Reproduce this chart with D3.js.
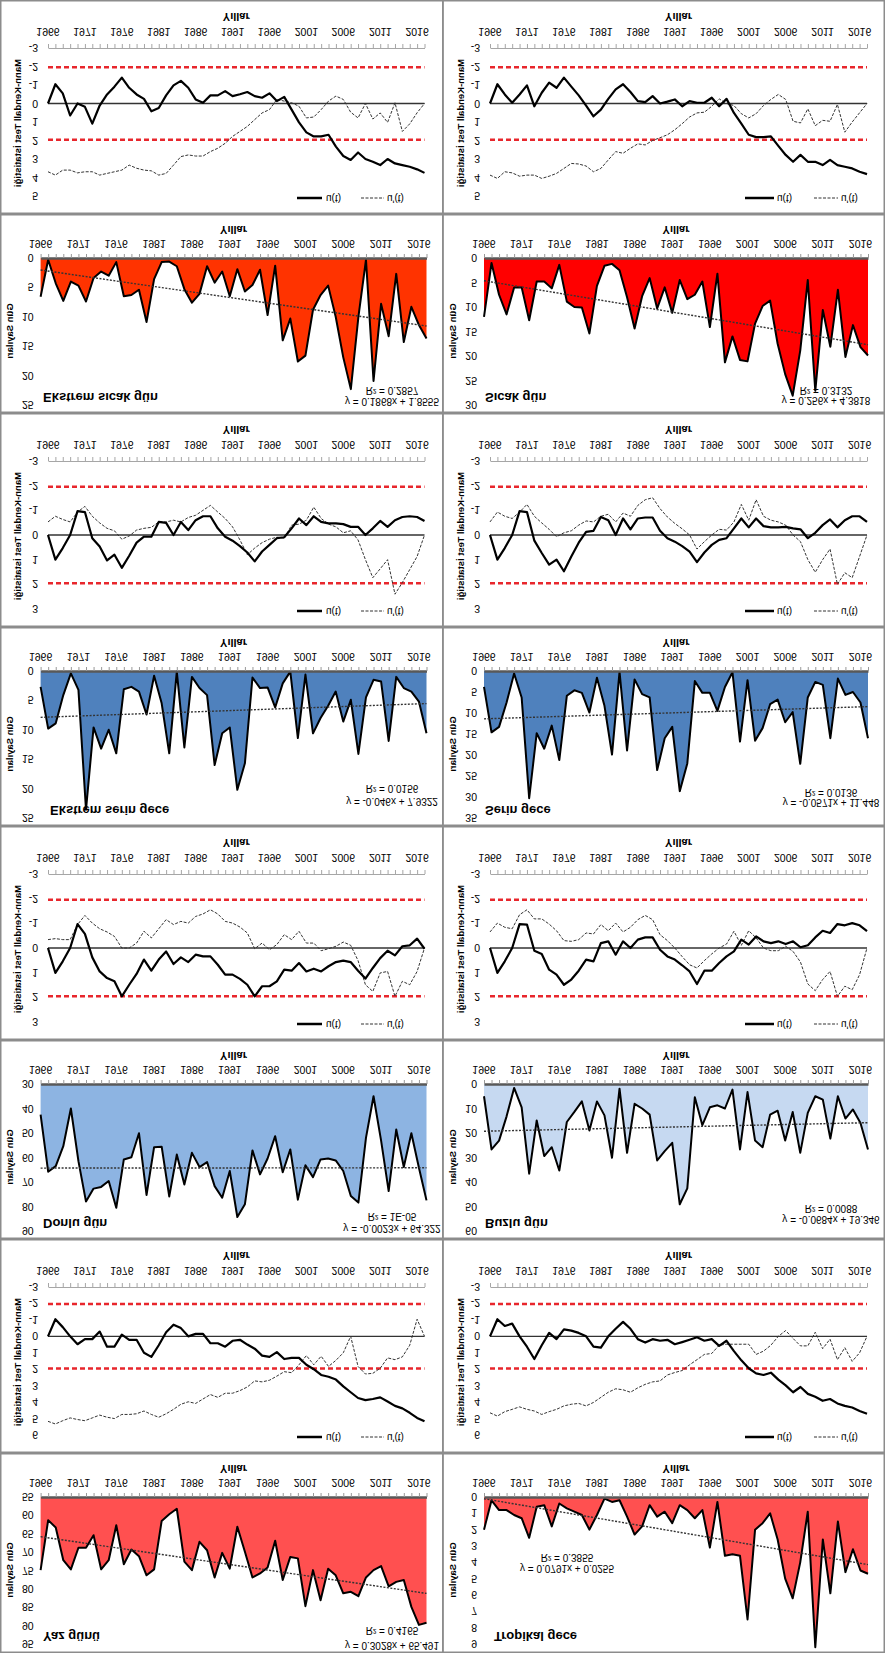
<!DOCTYPE html>
<html><head><meta charset="utf-8">
<script src="https://cdnjs.cloudflare.com/ajax/libs/d3/7.8.5/d3.min.js"></script>
<style>body{margin:0;background:#fff} svg{display:block} text{font-family:"Liberation Sans",Arial,sans-serif}</style>
</head><body><svg id="c" width="885" height="1653"></svg>
<script>
// ---------- categories / ticks ----------
const years = d3.range(1966, 2018);
const yearTickLabels = [1966, 1971, 1976, 1981, 1986, 1991, 1996, 2001, 2006, 2011, 2016];

// ---------- day-count series (1966-2017) ----------
const yazGunu = [74.9,61.3,63.3,72.2,74.7,68.8,68.8,65.4,74.7,72.2,62.7,73.3,69.3,71.1,76.3,74.7,61.5,59.7,58.2,72.6,74.9,67.2,69.5,76.9,70.2,74.5,63.1,69.9,76.9,75.8,74.2,66.9,77.6,71.3,71.7,84.7,74.9,83.1,74.5,76.3,81.2,80.8,82.0,76.9,74.9,73.8,79.3,78.1,77.6,84.9,89.8,89.2];
const tropikalGece = [2.0,0.2,0.8,0.8,1.1,1.3,2.5,0.6,0.5,1.8,0.4,0.7,0.9,1.1,2.0,1.1,0.1,0.3,0.2,1.2,2.3,1.8,0.5,1.2,0.9,1.6,0.5,0.8,1.3,0.8,3.1,0.3,3.6,3.5,3.6,7.5,2.0,1.6,1.0,2.6,5.0,6.2,4.0,0.9,9.2,2.6,5.9,1.5,4.6,3.2,4.5,4.7];
const donluGun = [42.5,65.8,63.5,55.4,40.0,61.5,78.0,72.7,72.0,69.6,80.5,60.8,59.9,50.1,75.3,55.8,55.6,75.9,58.8,71.0,58.1,63.9,61.9,71.7,76.4,65.5,84.3,79.1,57.1,66.9,60.4,51.3,66.0,56.7,77.2,63.2,68.0,60.8,60.4,61.2,65.5,75.7,78.4,52.0,35.0,53.1,73.7,48.6,63.9,50.1,64.2,77.5];
const buzluGun = [5.0,26.7,23.1,13.2,1.6,9.5,36.6,14.9,29.4,25.8,35.3,15.5,11.4,7.1,19.0,7.1,12.8,30.1,1.9,28.1,8.1,10.0,12.5,31.2,27.4,24.0,49.1,42.6,5.4,16.8,9.5,8.7,10.0,2.3,26.7,3.3,23.1,25.8,12.5,10.9,23.1,11.4,28.1,11.8,5.0,6.4,22.3,5.0,14.1,10.4,15.9,26.7];
const ekstremSerinGece = [2.7,9.8,8.9,4.1,0.4,3.2,23.6,9.6,13.2,10.0,14.0,3.1,2.7,3.5,7.4,0.8,5.5,14.0,0.1,13.0,1.0,2.9,4.1,16.0,10.6,9.6,20.2,15.7,1.1,2.9,2.8,6.2,2.1,0.1,11.4,0.6,10.6,8.0,5.9,3.5,8.6,4.9,14.1,4.5,1.5,1.8,11.9,1.0,2.9,3.5,5.2,10.6];
const serinGece = [3.8,14.6,13.3,7.5,0.6,6.3,30.3,14.8,18.5,13.0,21.2,5.9,4.6,5.2,9.9,1.6,8.3,19.9,0.2,18.9,2.0,5.5,6.3,23.6,16.0,13.3,28.6,22.0,2.4,5.2,5.2,9.5,3.8,0.3,16.8,2.2,16.6,13.6,7.9,6.8,12.2,9.8,22.1,6.3,2.6,3.3,16.0,1.8,5.7,5.0,7.5,16.0];
const ekstremSicakGun = [6.6,0.3,4.3,7.3,4.0,4.7,7.4,3.4,2.3,3.0,0.7,6.5,6.3,5.4,10.9,3.6,0.7,0.6,1.4,5.3,7.6,6.1,1.4,4.2,2.3,6.5,1.9,5.7,4.6,2.0,9.7,1.3,14.0,10.3,17.6,16.6,8.8,6.3,4.7,10.0,16.9,22.3,10.0,0.3,20.9,7.8,13.3,2.7,14.3,8.3,11.4,13.7];
const sicakGun = [12.0,1.0,7.5,11.5,6.0,6.0,12.7,4.8,4.8,6.2,1.4,8.9,10.0,10.1,15.4,5.7,1.6,1.2,2.5,8.0,14.4,7.8,4.1,10.3,6.0,11.2,4.5,8.4,7.5,4.8,14.1,3.2,21.3,16.0,20.8,21.1,13.4,9.8,8.7,17.5,23.7,28.1,18.9,4.5,27.1,10.6,18.1,6.5,20.2,13.7,18.2,19.9];

// ---------- Mann-Kendall u(t) and u'(t) series ----------
const mkEkstremSicakU  = [0,-1.04,-0.55,0.65,0,0.18,1.09,0.11,-0.49,-0.91,-1.4,-0.85,-0.49,-0.25,0.42,0.24,-0.44,-0.98,-1.22,-0.85,-0.22,-0.04,-0.44,-0.44,-0.67,-0.4,-0.5,-0.62,-0.4,-0.31,-0.55,-0.13,-0.36,0.33,1.02,1.56,1.78,1.78,1.69,2.33,2.84,3.05,2.65,3.0,3.15,3.33,3.0,3.24,3.33,3.42,3.56,3.75];
const mkEkstremSicakUb = [3.69,3.87,3.6,3.6,3.75,3.69,3.69,3.87,3.78,3.69,3.6,3.33,3.5,3.6,3.64,3.87,3.78,3.33,2.87,2.78,2.84,2.84,2.6,2.42,2.15,1.78,1.51,1.24,0.87,0.51,0.33,-0.22,-0.13,-0.04,0.15,0.78,0.73,0.33,-0.13,-0.4,-0.22,0.47,0.78,0,0.84,0.51,1.02,-0.04,1.51,1.1,0.5,0];
const mkSicakU  = [0,-1.04,-0.49,-0.04,-0.49,-0.98,0.15,-0.58,-1.13,-0.85,-1.4,-0.91,-0.44,0.11,0.69,0.33,-0.25,-0.76,-1.04,-0.62,-0.13,-0.07,-0.4,0,-0.1,-0.22,0.15,-0.13,-0.04,-0.04,-0.31,0.15,-0.25,0.51,1.09,1.69,1.82,1.82,1.78,2.29,2.78,3.15,2.78,3.15,3.15,3.33,3.05,3.33,3.42,3.51,3.69,3.82];
const mkSicakUb = [3.87,4.05,3.69,3.75,3.93,3.87,3.87,4.05,3.93,3.78,3.51,3.24,3.27,3.38,3.69,3.51,3.05,2.6,2.69,2.42,2.18,2.24,2.0,1.85,1.69,1.42,1.09,0.73,0.51,0.47,0.15,-0.25,0,0.11,0.55,0.78,0.55,0.11,-0.22,-0.49,-0.22,0.96,1.05,0.29,1.2,0.91,0.96,0.05,1.55,1.0,0.5,0];
const mkEkstremSerinU  = [0,1.0,0.53,0,-0.97,-0.93,0.13,0.47,1.03,0.8,1.33,0.84,0.31,0.07,0.07,-0.53,-0.49,0,-0.53,-0.2,-0.6,-0.76,-0.76,-0.27,0.07,0.23,0.45,0.71,1.07,0.67,0.4,0.13,0.09,-0.27,-0.67,-0.4,-0.76,-0.53,-0.47,-0.47,-0.44,-0.33,-0.33,0,-0.27,-0.57,-0.33,-0.6,-0.73,-0.76,-0.73,-0.57];
const mkEkstremSerinUb = [-0.53,-0.76,-0.63,-0.53,-0.93,-1.16,-0.76,-0.49,-0.27,-0.17,0.17,0.04,-0.2,-0.27,-0.31,-0.53,-0.53,-0.6,-0.53,-0.71,-0.8,-1.0,-1.2,-0.93,-0.67,-0.33,0.2,0.8,0.53,0.31,0.17,0.09,0.13,-0.4,-0.44,-0.6,-1.13,-0.67,-0.44,-0.33,-0.09,-0.17,0.2,1.0,1.73,1.37,1.0,2.4,1.93,1.4,0.87,0];
const mkSerinU  = [0,1.0,0.53,0,-0.97,-0.93,0.23,0.73,1.2,1.0,1.47,0.87,0.31,-0.13,-0.17,-0.73,-0.6,0,-0.67,-0.23,-0.67,-0.71,-0.71,-0.17,0.13,0.27,0.45,0.67,1.1,0.71,0.4,0.2,0.13,-0.27,-0.67,-0.31,-0.67,-0.36,-0.31,-0.31,-0.33,-0.27,-0.23,0.13,-0.09,-0.4,-0.63,-0.31,-0.6,-0.76,-0.76,-0.53];
const mkSerinUb = [-0.53,-0.93,-0.76,-0.67,-0.93,-1.24,-0.76,-0.49,-0.23,0.07,-0.09,-0.17,-0.4,-0.57,-0.53,-0.76,-0.84,-0.53,-0.89,-0.76,-1.2,-1.43,-1.51,-1.07,-0.73,-0.47,-0.25,0,0.57,0.27,0,-0.23,-0.2,-0.53,-1.24,-0.6,-1.43,-0.76,-0.6,-0.53,-0.4,0,0.27,1.0,1.51,1.0,0.57,2.0,1.53,1.73,0.87,0];
const mkDonluU  = [0,1.01,0.54,0,-0.97,-0.57,0.38,0.95,1.22,1.35,1.96,1.49,1.05,0.47,0.92,0.47,0.14,0.65,0.38,0.57,0.27,0.34,0.34,0.68,1.08,1.08,1.25,1.49,1.96,1.55,1.55,1.35,0.88,0.92,0.61,0.95,0.84,0.95,0.74,0.57,0.51,0.57,0.92,1.24,0.81,0.41,0.11,0.3,-0.07,-0.11,-0.38,0.03];
const mkDonluUb = [-0.34,-0.38,-0.34,-0.34,-0.95,-1.32,-1.01,-0.78,-0.65,-0.47,0,0,-0.2,-0.68,-0.41,-0.78,-1.15,-0.95,-1.08,-1.01,-1.28,-1.38,-1.55,-1.38,-1.08,-1.01,-0.85,-0.61,0.03,-0.2,0.07,-0.14,-0.54,-0.34,-0.68,-0.2,-0.2,0.11,0.03,-0.07,-0.24,-0.11,0.51,1.49,1.76,1.01,0.95,1.96,1.35,1.49,0.95,0];
const mkBuzluU  = [0,1.01,0.54,0,-0.97,-0.95,0.11,0.24,0.88,1.08,1.49,1.28,0.92,0.47,0.54,-0.2,-0.27,0.27,-0.27,0,-0.34,-0.43,-0.43,0.07,0.34,0.47,0.7,0.95,1.46,0.92,0.92,0.61,0.34,0.14,-0.34,-0.14,-0.47,-0.27,-0.2,-0.27,-0.16,-0.27,-0.03,-0.11,-0.43,-0.7,-0.61,-0.97,-0.92,-1.01,-0.92,-0.68];
const mkBuzluUb = [-0.65,-1.01,-0.84,-0.78,-1.35,-1.55,-1.18,-1.18,-0.97,-0.7,-0.3,-0.27,-0.34,-0.61,-0.57,-0.95,-0.7,-1.01,-0.65,-0.84,-1.15,-1.32,-1.15,-0.54,-0.3,0,0.35,0.68,0.81,0.51,0.24,0,-0.16,-0.68,-0.11,-0.7,-0.41,0,0.11,0.11,-0.07,0.14,0.57,1.46,1.73,1.28,0.95,1.96,1.55,1.69,1.08,0];
const mkYazU  = [0,-1.04,-0.56,0,0.48,0.17,0.17,-0.29,0.63,0.63,-0.1,0.21,0.21,1.0,1.25,0.54,-0.25,-0.71,-0.5,0,-0.15,-0.15,0.42,0.42,0.63,0.27,0.21,0.5,0.75,1.17,1.25,0.96,1.38,1.31,1.31,1.73,2.0,2.35,2.46,2.63,3.04,3.4,3.75,3.88,3.81,3.71,3.96,4.23,4.38,4.65,4.96,5.17];
const mkYazUb = [5.17,5.33,5.13,4.96,5.06,5.13,4.96,4.79,4.92,5.0,4.75,4.75,4.71,4.54,4.75,4.92,4.71,4.44,4.13,3.98,4.08,3.81,3.54,3.71,3.46,3.46,3.3,3.08,2.71,2.77,2.67,2.42,2.15,2.21,1.73,1.17,1.73,1.21,1.83,1.46,1.0,0,1.83,2.29,2.25,1.94,1.31,1.42,1.25,0.54,-1.04,0];
const mkTropikalU  = [0,-1.04,-0.63,-0.77,0,0.63,1.38,0.54,-0.21,0.17,-0.42,-0.35,-0.21,0,0.63,0.69,0,-0.46,-0.88,-0.46,0.17,0.38,0.17,0.27,0.21,0.48,0.35,0.21,0.06,0.27,0.17,0.58,0.27,0.9,1.46,1.94,2.25,2.35,2.21,2.63,2.98,3.4,3.08,3.5,3.67,3.92,3.81,4.08,4.23,4.33,4.54,4.71];
const mkTropikalUb = [4.65,4.85,4.58,4.44,4.29,4.44,4.54,4.75,4.58,4.44,4.23,4.13,4.08,4.23,4.02,3.71,3.4,3.19,3.25,3.4,3.13,2.92,2.77,2.71,2.35,2.2,2.08,1.73,1.42,1.1,1.04,0.54,0.48,0.48,0.48,0.48,1.1,0.9,0.54,0,-0.35,0.13,0.58,0.58,-0.25,0.75,0.17,1.42,0.69,1.52,1.0,0];

// ---------- trend equations (from the chart labels) ----------
const trendSlopes     = [0.1868, 0.256, -0.046, -0.0571, -0.0023, -0.0684, 0.3028, 0.0791];
const trendIntercepts = [1.8555, 4.3818, 7.9322, 11.448, 64.322, 19.346, 65.491, 0.0255];
const eqLabels = ["y = 0.1868x + 1.8555","y = 0.256x + 4.3818","y = -0.046x + 7.9322","y = -0.0571x + 11.448","y = -0.0023x + 64.322","y = -0.0684x + 19.346","y = 0.3028x + 65.491","y = 0.0791x + 0.0255"];
const r2Labels = ["R² = 0.2857","R² = 0.3132","R² = 0.0156","R² = 0.0136","R² = 1E-05","R² = 0.0088","R² = 0.4165","R² = 0.3855"];
const areaTitles = ["Ekstrem sıcak gün","Sıcak gün","Ekstrem serin gece","Serin gece","Donlu gün","Buzlu gün","Yaz günü","Tropikal gece"];
const areaSeries = [ekstremSicakGun, sicakGun, ekstremSerinGece, serinGece, donluGun, buzluGun, yazGunu, tropikalGece];
const areaDomains = [[0,25],[0,30],[0,25],[0,35],[30,90],[0,60],[55,95],[0,9]];
const areaSteps = [5,5,5,5,10,10,5,1];
const mkU  = [mkEkstremSicakU, mkSicakU, mkEkstremSerinU, mkSerinU, mkDonluU, mkBuzluU, mkYazU, mkTropikalU];
const mkUb = [mkEkstremSicakUb, mkSicakUb, mkEkstremSerinUb, mkSerinUb, mkDonluUb, mkBuzluUb, mkYazUb, mkTropikalUb];
const mkMax = [5,5,3,3,3,3,6,6];
const critical = [-1.96, 1.96];

// ---------- layout / styling (not data) ----------
const areaColors = ['#ff3300','#ff0000','#4f81bd','#4f81bd','#8db4e2','#c6d9f1','#ff5050','#ff5050'];
const areaTops = [214, 627, 1040, 1453];
const mkTops = [0, 413, 826, 1239];
const eqPos = [ // [centerX, eqY, r2Y, titleX]
  [392,401,390.5,43],[826,400,390,485],
  [392,801,788,50],[831,802,792,485],
  [392,1228,1216,43],[831,1219,1208,485],
  [392,1645,1630,43],[567,1568,1557,494]
];
const areaX = {L:[40.6,426.5], R:[484,868]};
const mkX = {L:[48,424.5], R:[490,867]};

const svg = d3.select('#c');
svg.append('rect').attr('width',885).attr('height',1653).attr('fill','#fff');

function ftext(g, x, y, s, o = {}) {
  return g.append('text')
    .attr('transform', `translate(${x},${y}) scale(1,-1)${o.rot ? ' rotate(-90)' : ''}`)
    .attr('text-anchor', o.anchor || 'middle')
    .attr('dominant-baseline', 'central')
    .attr('font-size', o.size || 10)
    .attr('font-weight', o.bold ? 'bold' : 'normal')
    .attr('fill', '#000')
    .text(s);
}

// panel borders
[...areaTops.map(t => [t, t === 1453 ? 200 : 199]), ...mkTops.map(t => [t, 214])].forEach(([t, h]) => {
  svg.append('rect').attr('x', 0.75).attr('y', t + 0.75).attr('width', 442).attr('height', h - 1.5)
    .attr('fill', 'none').attr('stroke', '#8c8c8c').attr('stroke-width', 1.5);
  svg.append('rect').attr('x', 443).attr('y', t + 0.75).attr('width', 441.25).attr('height', h - 1.5)
    .attr('fill', 'none').attr('stroke', '#8c8c8c').attr('stroke-width', 1.5);
});

function drawArea(i) {
  const side = i % 2 === 0 ? 'L' : 'R';
  const T = areaTops[Math.floor(i / 2)];
  const [x0, x1] = areaX[side];
  const dom = areaDomains[i];
  const g = svg.append('g');
  const x = d3.scalePoint().domain(years).range([x0, x1]);
  const y = d3.scaleLinear().domain(dom).range([T + 44, T + 191]);
  const data = areaSeries[i].map((v, k) => ({yr: years[k], v}));
  g.append('path').datum(data)
    .attr('d', d3.area().x(d => x(d.yr)).y0(y(dom[0])).y1(d => y(d.v)))
    .attr('fill', areaColors[i]);
  g.append('path').datum(data)
    .attr('d', d3.line().x(d => x(d.yr)).y(d => y(d.v)))
    .attr('fill', 'none').attr('stroke', '#000').attr('stroke-width', 2).attr('stroke-linejoin', 'round');
  // trend
  const tr = years.map((yr, k) => ({yr, v: trendSlopes[i] * (k + 1) + trendIntercepts[i]}));
  g.append('path').datum([tr[0], tr[tr.length - 1]])
    .attr('d', d3.line().x(d => x(d.yr)).y(d => y(d.v)))
    .attr('fill', 'none').attr('stroke', '#333').attr('stroke-width', 1.4).attr('stroke-dasharray', '2,1.5');
  // x axis
  const ax = g.append('g').attr('transform', `translate(0,${y(dom[0])})`)
    .call(d3.axisTop(x).tickValues(years).tickSize(4).tickSizeOuter(0).tickFormat(''));
  ax.select('.domain').attr('stroke', '#595959').attr('stroke-width', 2.5);
  ax.selectAll('.tick line').attr('stroke', '#999');
  yearTickLabels.forEach(yr => ftext(g, x(yr), T + 30, String(yr), {size: 10.5}));
  ftext(g, (x0 + x1) / 2, T + 16, 'Yıllar', {size: 11, bold: true});
  // y labels
  d3.range(dom[0], dom[1] + 0.001, areaSteps[i]).forEach(v =>
    ftext(g, x0 - 7, y(v), String(v), {size: 10.5, anchor: 'end'}));
  ftext(g, side === 'L' ? 9 : 452, T + 117, 'Gün Sayıları', {size: 9.5, bold: true, rot: true});
  const [cx, ey, ry, tx] = eqPos[i];
  ftext(g, tx, T + 183, areaTitles[i], {size: 13, bold: true, anchor: 'start'});
  ftext(g, cx, ey, eqLabels[i], {size: 10});
  ftext(g, cx, ry, r2Labels[i], {size: 10});
}

function drawMK(i) {
  const side = i % 2 === 0 ? 'L' : 'R';
  const T = mkTops[Math.floor(i / 2)];
  const [x0, x1] = mkX[side];
  const g = svg.append('g');
  const x = d3.scalePoint().domain(years).range([x0, x1]);
  const y = d3.scaleLinear().domain([-3, mkMax[i]]).range([T + 48, T + 196]);
  const ax = g.append('g').attr('transform', `translate(0,${y(-3)})`)
    .call(d3.axisTop(x).tickValues(years).tickSize(4).tickSizeOuter(0).tickFormat(''));
  ax.select('.domain').attr('stroke', '#a6a6a6').attr('stroke-width', 1);
  ax.selectAll('.tick line').attr('stroke', '#a6a6a6');
  yearTickLabels.forEach(yr => ftext(g, x(yr), T + 32, String(yr), {size: 10.5}));
  ftext(g, (x0 + x1) / 2, T + 17, 'Yıllar', {size: 11, bold: true});
  d3.range(-3, mkMax[i] + 0.001, 1).forEach(v =>
    ftext(g, x0 - 10, y(v), String(v), {size: 10.5, anchor: 'end'}));
  ftext(g, side === 'L' ? 17 : 460, T + 123, 'Mann-Kendall Test İstatistiği', {size: 9.5, bold: true, rot: true});
  critical.forEach(c => g.append('line').attr('x1', x0).attr('x2', x1).attr('y1', y(c)).attr('y2', y(c))
    .attr('stroke', '#e8262c').attr('stroke-width', 2.5).attr('stroke-dasharray', '5,3'));
  g.append('line').attr('x1', x0).attr('x2', x1).attr('y1', y(0)).attr('y2', y(0))
    .attr('stroke', '#333').attr('stroke-width', 1.3);
  const line = d3.line().x((d, k) => x(years[k])).y(d => y(d));
  g.append('path').datum(mkUb[i]).attr('d', line).attr('fill', 'none')
    .attr('stroke', '#333').attr('stroke-width', 1).attr('stroke-dasharray', '3,1.5');
  g.append('path').datum(mkU[i]).attr('d', line).attr('fill', 'none')
    .attr('stroke', '#000').attr('stroke-width', 2.2).attr('stroke-linejoin', 'round');
  // legend
  const ly = T + 198;
  const lx = side === 'L' ? [297, 322, 326, 361, 384, 387] : [745, 774, 777, 814, 838, 841];
  g.append('line').attr('x1', lx[0]).attr('x2', lx[1]).attr('y1', ly).attr('y2', ly).attr('stroke', '#000').attr('stroke-width', 2.5);
  ftext(g, lx[2], ly, 'u(t)', {size: 10, anchor: 'start'});
  g.append('line').attr('x1', lx[3]).attr('x2', lx[4]).attr('y1', ly).attr('y2', ly).attr('stroke', '#333').attr('stroke-width', 1).attr('stroke-dasharray', '3,1.5');
  ftext(g, lx[5], ly, "u'(t)", {size: 10, anchor: 'start'});
}

for (let i = 0; i < 8; i++) { drawArea(i); drawMK(i); }
</script></body></html>
